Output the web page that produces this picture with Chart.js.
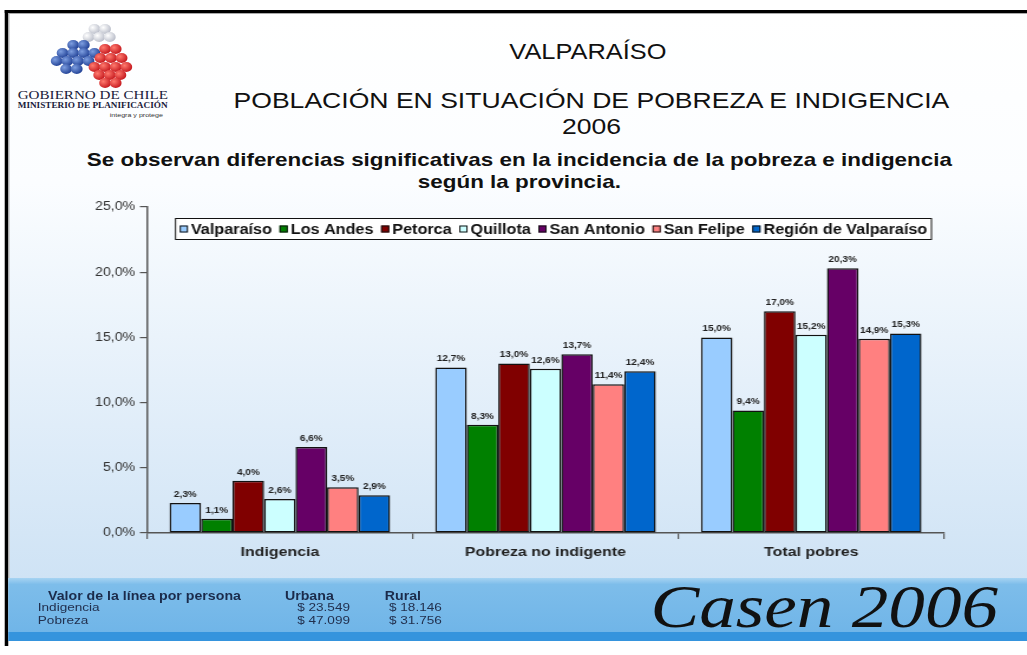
<!DOCTYPE html>
<html><head><meta charset="utf-8">
<script src="https://cdn.jsdelivr.net/npm/chart.js@4.4.1/dist/chart.umd.min.js"></script>
<style>
html,body{margin:0;padding:0;background:#fff;overflow:hidden;width:1027px;height:655px;}
#slide{position:absolute;left:0;top:0;width:870px;height:655px;transform:scaleX(1.1805);transform-origin:0 0;font-family:'Liberation Sans',Arial,sans-serif;overflow:hidden;}
#frame{position:absolute;left:4.3px;top:10px;width:900px;height:636px;border-top:3px solid #000;border-left:3px solid #000;box-sizing:border-box;}
#bg{position:absolute;left:7.3px;top:13px;width:870px;height:565px;background:linear-gradient(to bottom,#ffffff 0%,#fbfdff 30%,#cfe3f5 100%);border-top:1px solid #aaa;border-left:1px solid #aaa;box-sizing:border-box;}
#band{position:absolute;left:7.3px;top:578px;width:870px;height:54px;background:linear-gradient(to bottom,#a6d3f2 0%,#7dbdea 12%,#70b5e8 100%);}
#strip{position:absolute;left:7.3px;top:632px;width:870px;height:9px;background:#3594dd;}
.t{position:absolute;text-align:center;white-space:nowrap;color:#111;}
.b{position:absolute;white-space:nowrap;color:#1b2b4b;line-height:14px;}
canvas{position:absolute;left:0;top:0;}
</style></head>
<body>
<div id="slide">
  <div id="frame"></div>
  <div id="bg"></div>
  <div id="band"></div>
  <div id="strip"></div>

  <svg style="position:absolute;left:0;top:0" width="150" height="95">
    <defs>
      <radialGradient id="gb" cx="35%" cy="35%" r="70%"><stop offset="0" stop-color="#7d9ee0"/><stop offset="1" stop-color="#1f3f94"/></radialGradient>
      <radialGradient id="gr" cx="35%" cy="35%" r="70%"><stop offset="0" stop-color="#ff7a6e"/><stop offset="1" stop-color="#c4161c"/></radialGradient>
      <radialGradient id="gg" cx="35%" cy="35%" r="70%"><stop offset="0" stop-color="#ffffff"/><stop offset="1" stop-color="#b8bcc8"/></radialGradient>
    </defs>
    <g fill="url(#gg)">
      <circle cx="80" cy="29" r="5"/><circle cx="89" cy="29" r="5"/><circle cx="75" cy="37" r="5"/><circle cx="84" cy="37" r="5"/><circle cx="93" cy="37" r="5"/>
    </g>
    <g fill="url(#gb)">
      <circle cx="62" cy="45" r="5"/><circle cx="71" cy="45" r="5"/><circle cx="53" cy="53" r="5"/><circle cx="62" cy="53" r="5"/><circle cx="71" cy="53" r="5"/><circle cx="80" cy="53" r="5"/>
      <circle cx="48" cy="61" r="5"/><circle cx="57" cy="61" r="5"/><circle cx="66" cy="61" r="5"/><circle cx="75" cy="61" r="5"/><circle cx="56" cy="69" r="5"/><circle cx="65" cy="69" r="5"/>
    </g>
    <g fill="url(#gr)">
      <circle cx="89" cy="49" r="5"/><circle cx="98" cy="49" r="5"/><circle cx="85" cy="58" r="5"/><circle cx="94" cy="58" r="5"/><circle cx="103" cy="58" r="5"/>
      <circle cx="80" cy="67" r="5"/><circle cx="89" cy="67" r="5"/><circle cx="98" cy="67" r="5"/><circle cx="107" cy="67" r="5"/>
      <circle cx="84" cy="75" r="5"/><circle cx="93" cy="75" r="5"/><circle cx="102" cy="75" r="5"/><circle cx="89" cy="83" r="5"/><circle cx="98" cy="83" r="5"/>
    </g>
  </svg>
  <div style="position:absolute;left:15px;top:89px;font-family:'Liberation Serif',serif;font-size:12.8px;line-height:13px;color:#1a1a3a;white-space:nowrap;">GOBIERNO DE CHILE</div>
  <div style="position:absolute;left:15px;top:102px;font-family:'Liberation Serif',serif;font-size:7.8px;line-height:8px;color:#1a1a3a;font-weight:bold;white-space:nowrap;">MINISTERIO DE PLANIFICACIÓN</div>
  <div style="position:absolute;left:80px;width:58px;text-align:right;top:111px;font-family:'Liberation Sans',sans-serif;font-size:6px;line-height:8px;color:#333;white-space:nowrap;">integra y protege</div>

  <div class="t" style="left:98px;width:800px;top:40px;font-size:21.5px;line-height:24px;">VALPARAÍSO</div>
  <div class="t" style="left:101px;width:800px;top:88px;font-size:22.5px;line-height:26px;">POBLACIÓN EN SITUACIÓN DE POBREZA E INDIGENCIA<br>2006</div>
  <div class="t" style="left:40px;width:800px;top:149px;font-size:19px;line-height:22px;font-weight:bold;">Se observan diferencias significativas en la incidencia de la pobreza e indigencia<br>según la provincia.</div>

  <canvas id="c" width="870" height="655"></canvas>

  <div class="b" style="left:40.7px;top:589px;font-size:12px;font-weight:bold;">Valor de la línea por persona</div>
  <div class="b" style="left:241.4px;top:589px;font-size:12px;font-weight:bold;">Urbana</div>
  <div class="b" style="left:326px;top:589px;font-size:12px;font-weight:bold;">Rural</div>
  <div class="b" style="left:32px;top:600px;font-size:11.5px;color:#22304e;">Indigencia</div>
  <div class="b" style="left:32px;top:613px;font-size:11.5px;color:#22304e;">Pobreza</div>
  <div class="b" style="left:196.5px;width:100px;text-align:right;top:600px;font-size:11.5px;color:#22304e;">$ 23.549</div>
  <div class="b" style="left:196.5px;width:100px;text-align:right;top:613px;font-size:11.5px;color:#22304e;">$ 47.099</div>
  <div class="b" style="left:329.5px;top:600px;font-size:11.5px;color:#22304e;">$ 18.146</div>
  <div class="b" style="left:329.5px;top:613px;font-size:11.5px;color:#22304e;">$ 31.756</div>
  <div style="position:absolute;left:551px;top:575px;font-family:'Liberation Serif',serif;font-style:italic;font-size:62px;line-height:62px;color:#111;white-space:nowrap;">Casen 2006</div>
</div>

<script>
const categories = ['Indigencia', 'Pobreza no indigente', 'Total pobres'];
const seriesNames = ['Valparaíso', 'Los Andes', 'Petorca', 'Quillota', 'San Antonio', 'San Felipe', 'Región de Valparaíso'];
const valparaiso = [2.3, 12.7, 15.0];
const losAndes = [1.1, 8.3, 9.4];
const petorca = [4.0, 13.0, 17.0];
const quillota = [2.6, 12.6, 15.2];
const sanAntonio = [6.6, 13.7, 20.3];
const sanFelipe = [3.5, 11.4, 14.9];
const regionValparaiso = [2.9, 12.4, 15.3];
const yTicks = [0, 5, 10, 15, 20, 25];

const seriesValues = [valparaiso, losAndes, petorca, quillota, sanAntonio, sanFelipe, regionValparaiso];
const seriesColors = ['#99CCFF', '#008000', '#800000', '#CCFFFF', '#660066', '#FF8080', '#0066CC'];

const fmtPct = v => v.toFixed(1).replace('.', ',') + '%';

const valueLabels = {
  id: 'valueLabels',
  afterDatasetsDraw(chart) {
    const ctx = chart.ctx;
    ctx.save();
    ctx.font = 'bold 8.5px "Liberation Sans", Arial, sans-serif';
    ctx.fillStyle = '#222';
    ctx.textAlign = 'center';
    ctx.textBaseline = 'alphabetic';
    chart.data.datasets.forEach((ds, i) => {
      chart.getDatasetMeta(i).data.forEach((bar, j) => {
        ctx.fillText(fmtPct(ds.data[j]), bar.x, bar.y - 6);
      });
    });
    ctx.restore();
  }
};

const boxLegend = {
  id: 'boxLegend',
  afterDraw(chart) {
    const ctx = chart.ctx;
    const area = chart.chartArea;
    const x0 = area.left + 23.7, x1 = area.right - 10.2;
    const y0 = area.top + 11, y1 = area.top + 33;
    const sx = 0.98;
    ctx.save();
    ctx.fillStyle = '#ffffff';
    ctx.fillRect(x0, y0, x1 - x0, y1 - y0);
    ctx.strokeStyle = '#111';
    ctx.lineWidth = 1;
    ctx.strokeRect(x0 + 0.5, y0 + 0.5, x1 - x0 - 1, y1 - y0 - 1);
    ctx.font = 'bold 14px "Liberation Sans", Arial, sans-serif';
    const marker = 7, mgap = 2.5, pad = 4;
    const items = chart.data.datasets.map(ds => ({
      label: ds.label, color: ds.backgroundColor,
      w: marker + mgap + ctx.measureText(ds.label).width * sx
    }));
    const total = items.reduce((s, it) => s + it.w, 0);
    const gap = (x1 - x0 - 2 * pad - total) / (items.length - 1);
    let x = x0 + pad;
    const cy = (y0 + y1) / 2;
    ctx.textBaseline = 'middle';
    ctx.textAlign = 'left';
    items.forEach(it => {
      ctx.fillStyle = it.color;
      ctx.fillRect(x, cy - marker / 2, marker, marker);
      ctx.strokeStyle = '#111';
      ctx.strokeRect(x + 0.5, cy - marker / 2 + 0.5, marker - 1, marker - 1);
      ctx.save();
      ctx.translate(x + marker + mgap, cy + 1);
      ctx.scale(sx, 1);
      ctx.fillStyle = '#111';
      ctx.fillText(it.label, 0, 0);
      ctx.restore();
      x += it.w + gap;
    });
    ctx.restore();
  }
};

new Chart(document.getElementById('c'), {
  type: 'bar',
  data: {
    labels: categories,
    datasets: seriesNames.map((name, i) => ({
      label: name,
      data: seriesValues[i],
      backgroundColor: seriesColors[i],
      borderColor: '#111',
      borderWidth: 1.5,
      borderSkipped: false,
      categoryPercentage: 0.83,
      barPercentage: 1.0
    }))
  },
  options: {
    responsive: false,
    devicePixelRatio: 1,
    animation: false,
    layout: { padding: { left: 40, right: 70.3, top: 207, bottom: 82 } },
    plugins: { legend: { display: false }, tooltip: { enabled: false }, title: { display: false } },
    scales: {
      x: {
        grid: { display: true, drawOnChartArea: false, offset: true, tickLength: 6, color: '#555', lineWidth: 1.2 },
        border: { display: true, color: '#555', width: 1.5 },
        ticks: { color: '#222', padding: 5, font: { family: '"Liberation Sans", Arial, sans-serif', size: 13.5, weight: 'bold' } },
        afterFit(scale) { scale.height = 40; }
      },
      y: {
        min: 0, max: 25,
        afterBuildTicks(scale) { scale.ticks = yTicks.map(v => ({ value: v })); },
        grid: { display: true, drawOnChartArea: false, tickLength: 6, color: '#555', lineWidth: 1.2 },
        border: { display: true, color: '#555', width: 1.5 },
        ticks: { color: '#333', padding: 4, font: { family: '"Liberation Sans", Arial, sans-serif', size: 12 }, callback: v => fmtPct(v) },
        afterFit(scale) { scale.width = 84.5; }
      }
    }
  },
  plugins: [valueLabels, boxLegend]
});
</script>
</body></html>
